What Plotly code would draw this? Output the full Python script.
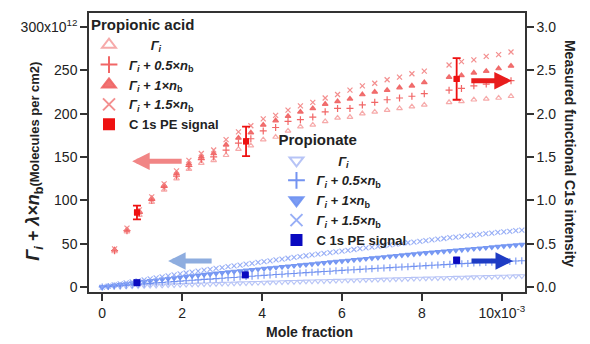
import plotly.graph_objects as go

# ---------------- data ----------------
# Propionic acid (left axis, molecules per cm2 in units of 1e12), x in units of 1e-3
acid_x = [0.31, 0.62, 0.93, 1.24, 1.55, 1.86, 2.17, 2.48, 2.79, 3.10, 3.41, 3.72, 4.03, 4.34, 4.65, 4.96,
          5.27, 5.58, 5.89, 6.20, 6.51, 6.82, 7.13, 7.44, 7.75, 8.06, 8.68, 8.99, 9.30, 9.61, 9.92, 10.23]
acid_g = [41, 64, 83, 98, 112, 125, 136, 143, 146, 152, 159, 163, 170, 173, 180, 185,
          187, 191, 195, 196, 200, 202, 204, 206, 208, 210, 213, 214, 216, 217, 218, 220]
acid_g05 = [42, 65, 85, 100, 115, 128, 139, 147, 150, 158, 166, 171, 180, 184, 191, 193,
            196, 202, 206, 206, 210, 213, 216, 218, 220, 223, 227, 229, 232, 234, 236, 238]
acid_g10 = [43, 66, 87, 102, 117, 131, 142, 150, 154, 164, 172, 178, 187, 192, 197, 202,
            206, 211, 214, 217, 222, 225, 227, 230, 232, 236, 242, 244, 247, 249, 252, 255]
acid_g15 = [44, 68, 89, 104, 119, 134, 146, 154, 158, 170, 179, 186, 194, 198, 204, 209,
            213, 218, 222, 227, 232, 235, 239, 242, 246, 249, 256, 260, 262, 266, 268, 271]
acid_pe_x = [0.87, 3.60, 8.87]
acid_pe_y = [0.86, 1.68, 2.40]
acid_pe_err = [0.08, 0.17, 0.24]

# Propionate
ion_x = [0.00, 0.15, 0.30, 0.45, 0.60, 0.75, 0.90, 1.05, 1.20, 1.35, 1.50, 1.65, 1.80, 1.95, 2.10, 2.25,
         2.40, 2.55, 2.70, 2.85, 3.00, 3.15, 3.30, 3.45, 3.60, 3.75, 3.90, 4.05, 4.20, 4.35, 4.50, 4.65,
         4.80, 4.95, 5.10, 5.25, 5.40, 5.55, 5.70, 5.85, 6.00, 6.15, 6.30, 6.45, 6.60, 6.75, 6.90, 7.05,
         7.20, 7.35, 7.50, 7.65, 7.80, 7.95, 8.10, 8.25, 8.40, 8.55, 8.70, 8.85, 9.00, 9.15, 9.30, 9.45,
         9.60, 9.75, 9.90, 10.05, 10.20, 10.35, 10.50]
ion_g = [0, 0.2, 0.4, 0.6, 0.8, 1.0, 1.2, 1.4, 1.6, 1.8, 2.0, 2.2, 2.4, 2.6, 2.8, 3.0, 3.1, 3.3, 3.5, 3.7,
         3.9, 4.1, 4.3, 4.5, 4.7, 4.8, 5.0, 5.2, 5.4, 5.6, 5.8, 6.0, 6.1, 6.3, 6.5, 6.7, 6.9, 7.0, 7.2, 7.4,
         7.6, 7.8, 7.9, 8.1, 8.3, 8.5, 8.6, 8.8, 9.0, 9.2, 9.3, 9.5, 9.7, 9.9, 10.0, 10.2, 10.4, 10.5, 10.7,
         10.9, 11.1, 11.2, 11.4, 11.6, 11.7, 11.9, 12.1, 12.2, 12.4, 12.6, 12.7]
ion_g05 = [0, 0.5, 1.1, 1.6, 2.2, 2.7, 3.2, 3.8, 4.3, 4.8, 5.3, 5.8, 6.3, 6.8, 7.3, 7.8, 8.3, 8.8, 9.2, 9.7,
           10.2, 10.7, 11.1, 11.6, 12.1, 12.5, 13.0, 13.5, 13.9, 14.4, 14.8, 15.3, 15.7, 16.2, 16.6, 17.0,
           17.5, 17.9, 18.3, 18.8, 19.2, 19.6, 20.0, 20.4, 20.8, 21.2, 21.6, 22.0, 22.4, 22.8, 23.2, 23.5,
           23.9, 24.3, 24.7, 25.1, 25.5, 25.9, 26.2, 26.6, 27.0, 27.3, 27.7, 28.0, 28.4, 28.7, 29.1, 29.4,
           29.6, 30.0, 30.4]
ion_g10 = [0, 0.9, 1.8, 2.7, 3.6, 4.5, 5.4, 6.3, 7.1, 7.9, 8.8, 9.6, 10.4, 11.2, 12.0, 12.8, 13.5, 14.3,
           15.0, 15.8, 16.5, 17.2, 17.9, 18.5, 19.2, 19.9, 20.6, 21.2, 21.9, 22.6, 23.3, 23.9, 24.6, 25.3,
           25.9, 26.6, 27.3, 28.0, 28.7, 29.3, 30.0, 30.7, 31.4, 32.0, 32.7, 33.4, 34.1, 34.7, 35.4, 36.1,
           36.8, 37.4, 38.1, 38.8, 39.4, 40.0, 40.6, 41.2, 41.8, 42.4, 43.0, 43.6, 44.2, 44.8, 45.4, 46.0,
           46.6, 47.2, 47.8, 48.4, 49.0]
ion_g15 = [0, 1.2, 2.4, 3.6, 4.8, 6.0, 7.2, 8.4, 9.5, 10.6, 11.8, 12.9, 14.0, 15.1, 16.2, 17.3, 18.3, 19.4,
           20.4, 21.5, 22.5, 23.5, 24.5, 25.4, 26.4, 27.4, 28.4, 29.3, 30.3, 31.3, 32.3, 33.2, 34.2, 35.2,
           36.1, 37.0, 37.9, 38.8, 39.7, 40.6, 41.5, 42.4, 43.3, 44.2, 45.1, 46.0, 46.9, 47.8, 48.6, 49.4,
           50.3, 51.1, 51.9, 52.7, 53.6, 54.4, 55.2, 56.0, 56.9, 57.7, 58.5, 59.3, 60.0, 60.8, 61.5, 62.3,
           63.0, 63.7, 64.3, 65.0, 65.6]
ion_pe_x = [0.87, 3.58, 8.87]
ion_pe_y = [0.05, 0.14, 0.31]
ion_pe_err = [0.01, 0.01, 0.03]

x_ticks = [0, 2, 4, 6, 8, 10]
x_ticktext = ["0", "2", "4", "6", "8", "10x10<sup>-3</sup>"]
y_ticks = [0, 50, 100, 150, 200, 250, 300]
y_ticktext = ["0", "50", "100", "150", "200", "250", "300x10<sup>12</sup>"]
y2_ticks = [0.0, 0.5, 1.0, 1.5, 2.0, 2.5, 3.0]
y2_ticktext = ["0.0", "0.5", "1.0", "1.5", "2.0", "2.5", "3.0"]

FONT = "Liberation Sans, Arial, sans-serif"
lab = {
    "g": "<b><i>Γ<sub>i</sub></i></b>",
    "g05": "<b><i>Γ<sub>i</sub> + 0.5×n</i><sub>b</sub></b>",
    "g10": "<b><i>Γ<sub>i</sub> + 1×n</i><sub>b</sub></b>",
    "g15": "<b><i>Γ<sub>i</sub> + 1.5×n</i><sub>b</sub></b>",
    "pe": "<b>C 1s PE signal</b>",
}

fig = go.Figure()

# ---- propionate (blue) ----
blue_specs = [
    (ion_g, "triangle-down-open", "rgba(175,190,245,0.9)", "      " + lab["g"]),
    (ion_g05, "cross-thin-open", "rgba(100,135,240,0.9)", lab["g05"]),
    (ion_g10, "triangle-down", "rgba(110,145,242,0.9)", lab["g10"]),
    (ion_g15, "x-thin-open", "rgba(140,165,245,0.9)", lab["g15"]),
]
for ys, sym, col, name in blue_specs:
    fig.add_trace(go.Scatter(
        x=ion_x, y=ys, mode="markers", name=name, legend="legend2",
        marker=dict(symbol=sym, size=5, color=col, line=dict(color=col, width=1.1)),
    ))
fig.add_trace(go.Scatter(
    x=ion_pe_x, y=ion_pe_y, mode="markers", name=lab["pe"], legend="legend2", yaxis="y2",
    marker=dict(symbol="square", size=7, color="#0a0ac0"),
))

# ---- propionic acid (red) ----
red_specs = [
    (acid_g, "triangle-up-open", "rgba(245,155,155,0.85)", "      " + lab["g"]),
    (acid_g05, "cross-thin-open", "rgba(240,85,85,0.9)", lab["g05"]),
    (acid_g10, "triangle-up", "rgba(240,100,100,0.9)", lab["g10"]),
    (acid_g15, "x-thin-open", "rgba(242,130,130,0.9)", lab["g15"]),
]
for ys, sym, col, name in red_specs:
    fig.add_trace(go.Scatter(
        x=acid_x, y=ys, mode="markers", name=name, legend="legend",
        marker=dict(symbol=sym, size=5, color=col, line=dict(color=col, width=1.2)),
    ))

fig.add_trace(go.Scatter(
    x=acid_pe_x, y=acid_pe_y, mode="markers", yaxis="y2", showlegend=False,
    marker=dict(symbol="square", size=6, color="#ee1111"),
    error_y=dict(type="data", array=acid_pe_err, color="#ee1111", thickness=1.8, width=4),
))
fig.add_trace(go.Scatter(
    x=acid_pe_x, y=acid_pe_y, mode="markers", yaxis="y2", name=lab["pe"], legend="legend",
    marker=dict(symbol="square", size=6, color="#ee1111"),
))
fig.add_trace(go.Scatter(
    x=ion_pe_x, y=ion_pe_y, mode="markers", yaxis="y2", showlegend=False,
    marker=dict(symbol="square", size=6, color="#0a0ac0"),
    error_y=dict(type="data", array=ion_pe_err, color="#0a0ac0", thickness=1.8, width=3),
))

# ---- arrows ----
arrows = [
    (0.75, 145, 51, "rgba(240,120,120,0.9)"),
    (1.65, 30, 45, "rgba(130,165,220,0.9)"),
    (10.25, 238, -42, "#e81c1c"),
    (10.28, 30, -43, "#1e3cc4"),
]
for ax_x, ax_y, dx, col in arrows:
    fig.add_annotation(x=ax_x, y=ax_y, xref="x", yref="y", ax=dx, ay=0, text="",
                       showarrow=True, arrowhead=2, arrowsize=0.7, arrowwidth=5,
                       arrowcolor=col, standoff=0)

# ---- axis titles (annotations) ----
fig.add_annotation(
    x=-0.155, y=0.47, xref="paper", yref="paper", textangle=-90, showarrow=False,
    text="<b><i>Γ<sub>i</sub> + λ×n</i><sub>b</sub></b><span style='font-size:13px'><b>(Molecules per cm2)</b></span>",
    font=dict(family=FONT, size=18, color="#222"),
)
fig.add_annotation(
    x=1.126, y=0.495, xref="paper", yref="paper", textangle=90, showarrow=False,
    text="<b>Measured functional C1s intensity</b>",
    font=dict(family=FONT, size=14, color="#222"),
)
fig.add_annotation(
    x=0.505, y=-0.145, xref="paper", yref="paper", showarrow=False, yanchor="middle",
    text="<b>Mole fraction</b>", font=dict(family=FONT, size=14, color="#222"),
)

axis_common = dict(showgrid=False, zeroline=False, showline=True, linecolor="#333", linewidth=1.5,
                   ticks="outside", ticklen=7, tickwidth=1.5, tickcolor="#333", automargin=False,
                   tickfont=dict(family=FONT, size=14, color="#222"))

fig.update_layout(
    width=590, height=344,
    margin=dict(l=89, r=65, t=10, b=52),
    plot_bgcolor="white", paper_bgcolor="white",
    font=dict(family=FONT, color="#222"),
    xaxis=dict(range=[-0.33, 10.58], tickvals=x_ticks, ticktext=x_ticktext, mirror=True,
               **axis_common),
    yaxis=dict(range=[-5.7, 316], tickvals=y_ticks, ticktext=y_ticktext, **axis_common),
    yaxis2=dict(range=[-0.057, 3.16], tickvals=y2_ticks, ticktext=y2_ticktext, overlaying="y",
                side="right", **axis_common),
    legend=dict(x=0.0, y=1.01, xanchor="left", yanchor="top", bgcolor="rgba(0,0,0,0)",
                itemsizing="constant", tracegroupgap=0,
                title=dict(text="<b>Propionic acid</b>", font=dict(family=FONT, size=15, color="#222")),
                font=dict(family=FONT, size=13, color="#222")),
    legend2=dict(x=0.43, y=0.595, xanchor="left", yanchor="top", bgcolor="rgba(0,0,0,0)",
                 itemsizing="constant", tracegroupgap=0,
                 title=dict(text="<b>Propionate</b>", font=dict(family=FONT, size=15, color="#222")),
                 font=dict(family=FONT, size=13, color="#222")),
)

fig.write_html("out.html")
